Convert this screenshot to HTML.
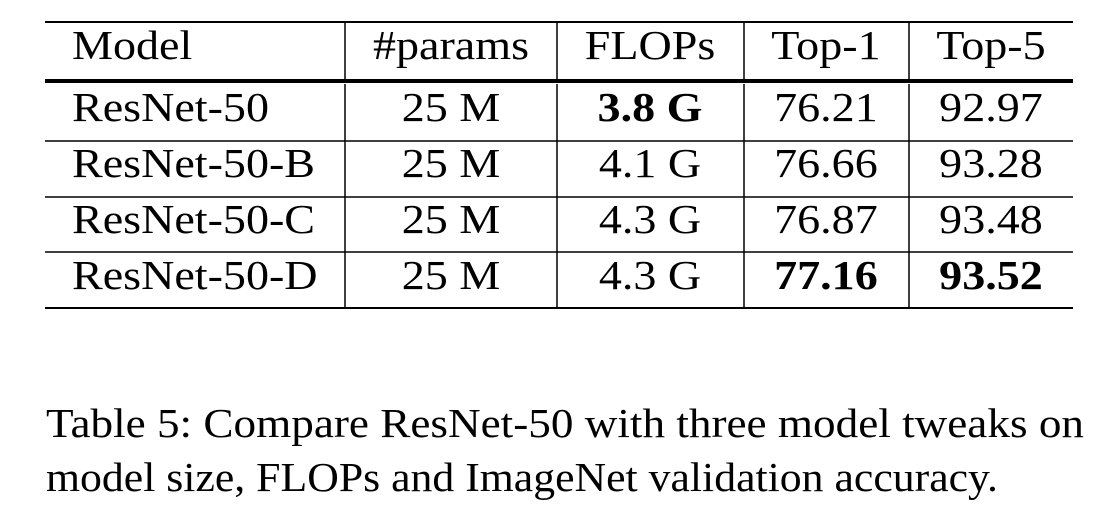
<!DOCTYPE html>
<html><head><meta charset="utf-8"><style>
html,body{margin:0;padding:0;background:#fff;}
svg{display:block;font-family:"Liberation Serif",serif;}
</style></head><body>
<svg width="1118" height="506" viewBox="0 0 1118 506">
<g stroke="#000">
<line x1="45" y1="22" x2="1073" y2="22" stroke-width="2"/>
<line x1="45" y1="81" x2="1073" y2="81" stroke-width="4"/>
<line x1="45" y1="141" x2="1073" y2="141" stroke-width="1.5"/>
<line x1="45" y1="197" x2="1073" y2="197" stroke-width="1.5"/>
<line x1="45" y1="252" x2="1073" y2="252" stroke-width="1.5"/>
<line x1="45" y1="308" x2="1073" y2="308" stroke-width="2"/>
<g stroke-width="1.5">
<line x1="345" y1="22" x2="345" y2="79"/><line x1="345" y1="84" x2="345" y2="308"/>
<line x1="557" y1="22" x2="557" y2="79"/><line x1="557" y1="84" x2="557" y2="308"/>
<line x1="744" y1="22" x2="744" y2="79"/><line x1="744" y1="84" x2="744" y2="308"/>
<line x1="909" y1="22" x2="909" y2="79"/><line x1="909" y1="84" x2="909" y2="308"/>
</g></g>
<g font-size="41.5" fill="#000" transform="scale(1.11 1)">
<g>
<text x="64.9" y="59">Model</text>
<text x="406.3" y="59" text-anchor="middle">#params</text>
<text x="585.6" y="59" text-anchor="middle">FLOPs</text>
<text x="744.1" y="59" text-anchor="middle">Top-1</text>
<text x="892.8" y="59" text-anchor="middle">Top-5</text>
</g>
<g>
<text x="64.9" y="121">ResNet-50</text>
<text x="406.3" y="121" text-anchor="middle">25 M</text>
<text x="585.6" y="121" text-anchor="middle" font-weight="bold">3.8 G</text>
<text x="744.1" y="121" text-anchor="middle">76.21</text>
<text x="892.8" y="121" text-anchor="middle">92.97</text>
</g>
<g>
<text x="64.9" y="177">ResNet-50-B</text>
<text x="406.3" y="177" text-anchor="middle">25 M</text>
<text x="585.6" y="177" text-anchor="middle">4.1 G</text>
<text x="744.1" y="177" text-anchor="middle">76.66</text>
<text x="892.8" y="177" text-anchor="middle">93.28</text>
</g>
<g>
<text x="64.9" y="233">ResNet-50-C</text>
<text x="406.3" y="233" text-anchor="middle">25 M</text>
<text x="585.6" y="233" text-anchor="middle">4.3 G</text>
<text x="744.1" y="233" text-anchor="middle">76.87</text>
<text x="892.8" y="233" text-anchor="middle">93.48</text>
</g>
<g>
<text x="64.9" y="289">ResNet-50-D</text>
<text x="406.3" y="289" text-anchor="middle">25 M</text>
<text x="585.6" y="289" text-anchor="middle">4.3 G</text>
<text x="744.1" y="289" text-anchor="middle" font-weight="bold">77.16</text>
<text x="892.8" y="289" text-anchor="middle" font-weight="bold">93.52</text>
</g>
</g>
<g font-size="41" fill="#000">
<text x="46" y="437" textLength="1038" lengthAdjust="spacingAndGlyphs">Table 5: Compare ResNet-50 with three model tweaks on</text>
<text x="46" y="491" textLength="952" lengthAdjust="spacingAndGlyphs">model size, FLOPs and ImageNet validation accuracy.</text>
</g>
</svg>
</body></html>
